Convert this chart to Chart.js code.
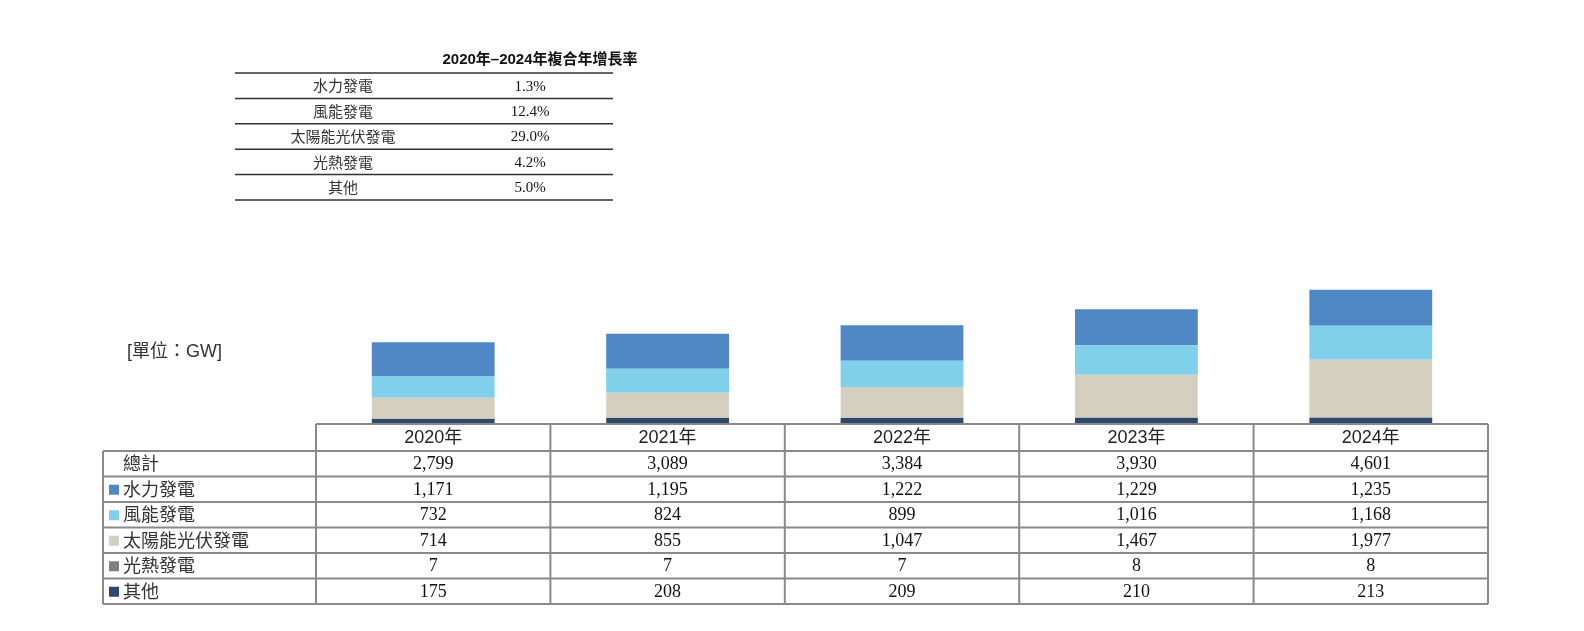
<!DOCTYPE html>
<html>
<head>
<meta charset="utf-8">
<script src="https://cdn.jsdelivr.net/npm/chart.js@4"></script>
<style>
  body { margin: 0; background: #fff; }
  canvas { display: block; }
</style>
</head>
<body>
<canvas id="grafico" width="1584" height="631"></canvas>
<script>
// datos (GW)
const anios = ['2020年', '2021年', '2022年', '2023年', '2024年'];
const totales = [2799, 3089, 3384, 3930, 4601];
const hidro = [1171, 1195, 1222, 1229, 1235];
const eolica = [732, 824, 899, 1016, 1168];
const solarFV = [714, 855, 1047, 1467, 1977];
const termosolar = [7, 7, 7, 8, 8];
const otros = [175, 208, 209, 210, 213];

const nombres = ['水力發電', '風能發電', '太陽能光伏發電', '光熱發電', '其他'];
const colores = ['#5088c6', '#80d0ec', '#d4cfbe', '#808083', '#2d4a6e'];
const cagr = ['1.3%', '12.4%', '29.0%', '4.2%', '5.0%'];

const serie = [hidro, eolica, solarFV, termosolar, otros];

const sans = '"Liberation Sans", "Noto Sans CJK TC", sans-serif';
const cjk = '"Noto Sans CJK TC", "Liberation Sans", sans-serif';
const serif = '"Liberation Serif", "Noto Serif CJK TC", serif';

const fmt = (v) => v.toLocaleString('en-US');

// tabla de datos debajo de las barras + tabla CAGR + unidad
const tablaPlugin = {
    id: 'tabla',
    afterDraw(chart) {
        const ctx = chart.ctx;
        const x = chart.scales.x;
        const area = chart.chartArea;
        const anchoCol = x.width / anios.length;
        const izq = 103;
        const der = area.right;
        const arriba = area.bottom;
        const altoHead = 27;
        const altoFila = 25.5;
        const filas = ['總計'].concat(nombres);
        const valores = [totales].concat(serie);
        const abajo = arriba + altoHead + altoFila * filas.length;

        ctx.save();
        ctx.strokeStyle = '#8a8a8a';
        ctx.lineWidth = 2;

        // líneas horizontales
        ctx.beginPath();
        ctx.moveTo(area.left, arriba);
        ctx.lineTo(der, arriba);
        for (let i = 0; i <= filas.length; i++) {
            const y = arriba + altoHead + i * altoFila;
            ctx.moveTo(izq, y);
            ctx.lineTo(der, y);
        }
        // líneas verticales
        ctx.moveTo(izq, arriba + altoHead);
        ctx.lineTo(izq, abajo);
        for (let c = 0; c <= anios.length; c++) {
            const xx = area.left + c * anchoCol;
            ctx.moveTo(xx, arriba);
            ctx.lineTo(xx, abajo);
        }
        ctx.stroke();

        ctx.textAlign = 'center';
        ctx.textBaseline = 'middle';

        // encabezado
        ctx.fillStyle = '#222';
        ctx.font = '18px ' + sans;
        anios.forEach((a, i) => {
            ctx.fillText(a, x.getPixelForValue(i), arriba + altoHead / 2 + 1);
        });

        // filas
        filas.forEach((nombre, f) => {
            const yc = arriba + altoHead + f * altoFila + altoFila / 2 + 1;
            if (f > 0) {
                ctx.fillStyle = colores[f - 1];
                ctx.fillRect(109, yc - 5.5, 10, 10);
            }
            ctx.fillStyle = '#333';
            ctx.textAlign = 'left';
            ctx.font = '18px ' + cjk;
            ctx.fillText(nombre, 123, yc - 1.5);
            ctx.textAlign = 'center';
            ctx.fillStyle = '#111';
            ctx.font = '18px ' + serif;
            valores[f].forEach((v, i) => {
                ctx.fillText(fmt(v), x.getPixelForValue(i), yc);
            });
        });

        // unidad
        ctx.textAlign = 'left';
        ctx.fillStyle = '#333';
        ctx.font = '18px ' + sans;
        ctx.fillText('[單位：GW]', 127, 352);

        // tabla CAGR
        const tIzq = 235, tDer = 613, tArriba = 73, tAlto = 25.4;
        ctx.textAlign = 'center';
        ctx.fillStyle = '#111';
        ctx.font = 'bold 15px ' + sans;
        ctx.fillText('2020年–2024年複合年增長率', 540, 60);
        ctx.strokeStyle = '#333';
        ctx.lineWidth = 1.5;
        ctx.beginPath();
        for (let i = 0; i <= nombres.length; i++) {
            const y = tArriba + i * tAlto;
            ctx.moveTo(tIzq, y);
            ctx.lineTo(tDer, y);
        }
        ctx.stroke();
        nombres.forEach((n, i) => {
            const yc = tArriba + i * tAlto + tAlto / 2 + 1;
            ctx.fillStyle = '#333';
            ctx.font = '15px ' + cjk;
            ctx.fillText(n, 343, yc - 1);
            ctx.fillStyle = '#111';
            ctx.font = '15px ' + serif;
            ctx.fillText(cagr[i], 530, yc);
        });
        ctx.restore();
    }
};

// orden de apilado: de abajo hacia arriba
const orden = [4, 3, 2, 1, 0];
const datasets = orden.map((k) => ({
    label: nombres[k],
    data: serie[k],
    backgroundColor: colores[k],
    borderWidth: 0,
    stack: 'total',
    barPercentage: 0.524,
    categoryPercentage: 1
}));

new Chart(document.getElementById('grafico'), {
    type: 'bar',
    data: { labels: anios, datasets: datasets },
    options: {
        responsive: false,
        animation: false,
        layout: { padding: { left: 316, right: 96, top: 278, bottom: 207 } },
        plugins: { legend: { display: false }, tooltip: { enabled: false } },
        scales: {
            x: { stacked: true, display: false },
            y: { stacked: true, display: false, min: 0, max: 5000 }
        }
    },
    plugins: [tablaPlugin]
});
</script>
</body>
</html>
